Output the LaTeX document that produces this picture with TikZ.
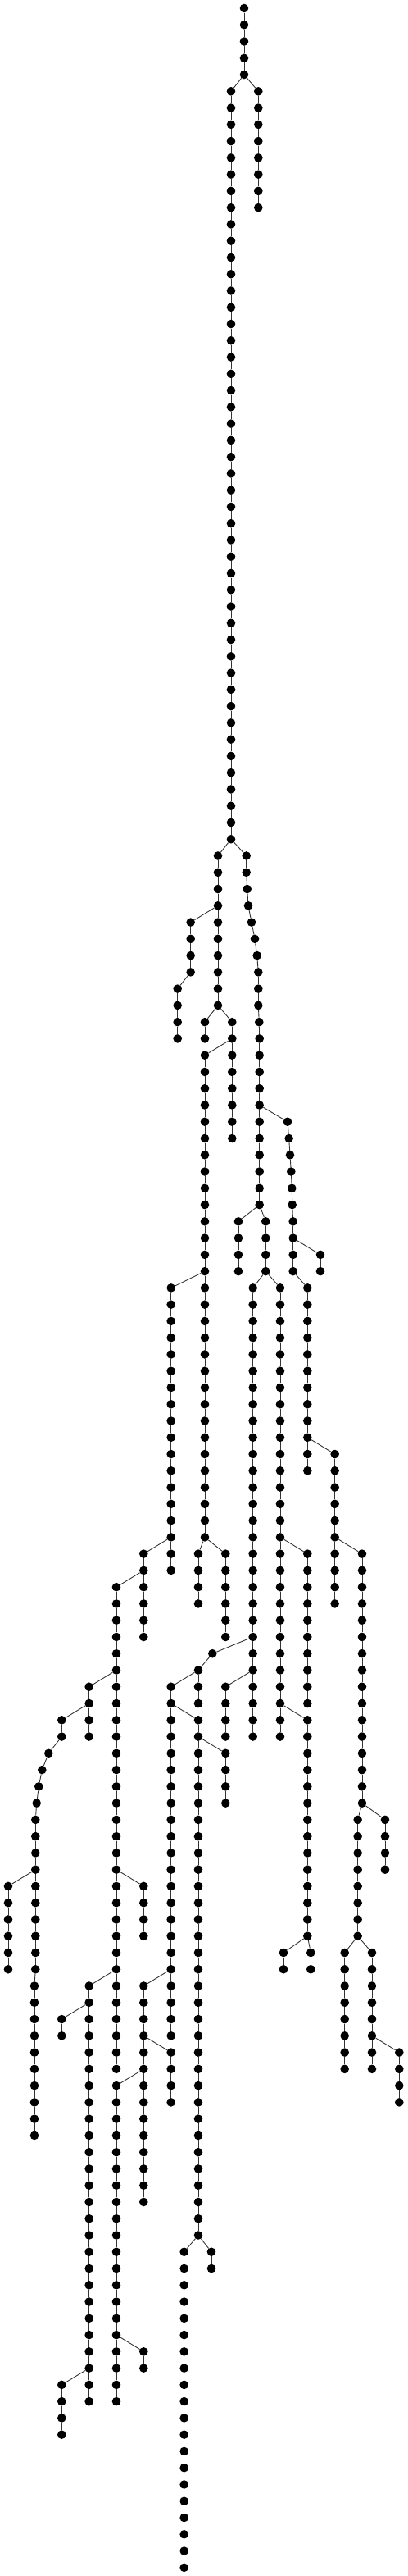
\documentclass[tikz,border=0pt]{standalone}
\tikzset{
  dot/.style={circle, fill=black, draw=none, inner sep=0pt, minimum size=10.6pt},
  edge/.style={draw=black!80, line width=0.9pt},
}
\newcommand\links[3]{\foreach \i in {#2,...,#3}{\pgfmathtruncatemacro\nxt{\i+1}\draw[edge] (#1-\i) -- (#1-\nxt);}}
\newcommand\chain[4]{%
  \foreach \i in {#3,...,#4}{\node[dot] (#1-\i) at (#2,\i) {};}%
  \ifnum#3<#4 \pgfmathtruncatemacro\lastm{#4-1}\links{#1}{#3}{\lastm}\fi}
\newcommand\pchain[4]{%
  \foreach \lv/\xv in {#4}{\node[dot] (#1-\lv) at (\xv,\lv) {};}%
  \pgfmathtruncatemacro\lastm{#3-1}\links{#1}{#2}{\lastm}}
\newcommand\ed[2]{\draw[edge] (#1) -- (#2);}
\begin{document}
\begin{tikzpicture}[x=1pt, y=-20.265pt]
\useasboundingbox (0,-0.4935) rectangle (498,154.505);
\chain{R}{298}{0}{4}
\chain{A}{282}{5}{50}
\chain{B}{315.3}{5}{12}
\ed{R-4}{A-5} \ed{R-4}{B-5}
\chain{C}{266}{51}{60}
\pchain{D}{51}{72}{51/300.7,52/300.7,53/301.7,54/303,55/307,56/311,57/313.7,58/315.3,59/315.3,60/315.3,61/316.3,62/316.7,63/316.7,64/316.7,65/316.7,66/316.7,67/316.7,68/316.7,69/316.7,70/316.7,71/316.7,72/316.7}
\ed{A-50}{C-51} \ed{A-50}{D-51}
\chain{E}{232.7}{55}{58} \ed{C-54}{E-55}
\chain{F}{216.7}{59}{62} \ed{E-58}{F-59}
\chain{G}{250}{61}{62} \ed{C-60}{G-61}
\chain{H}{283.3}{61}{68} \ed{C-60}{H-61}
\chain{I}{250}{63}{92} \ed{H-62}{I-63}
\chain{J}{208.7}{77}{94} \ed{I-76}{J-77}
\chain{K}{175.3}{93}{98} \ed{J-92}{K-93}
\chain{M}{142}{95}{124} \ed{K-94}{M-95}
\chain{O}{108.7}{101}{104} \ed{M-100}{O-101}
\pchain{P}{103}{128}{103/75.3,104/75.3,105/59.3,106/51.3,107/47.3,108/44.7,109/43.3,110/43.3,111/43.3,112/43.3,113/43.3,114/43.3,115/43.3,116/43.3,117/43.3,118/43.3,119/42,120/42,121/42,122/42,123/42,124/42,125/42,126/42,127/42,128/42}
\ed{O-102}{P-103}
\chain{Q}{10}{113}{118} \ed{P-112}{Q-113}
\chain{S}{175.3}{113}{116} \ed{M-112}{S-113}
\chain{T}{108.7}{119}{144} \ed{M-118}{T-119}
\chain{U}{75.3}{121}{122} \ed{T-120}{U-121}
\chain{V}{75.3}{143}{146} \ed{T-142}{V-143}
\chain{W}{242}{93}{96} \ed{I-92}{W-93}
\chain{X}{275.3}{93}{98} \ed{I-92}{X-93}
\pchain{Y}{67}{76}{67/351,68/352.7,69/354,70/355.3,71/356.3,72/356.7,73/357.7,74/357.7,75/357.7,76/357.7}
\ed{D-66}{Y-67}
\chain{Yb}{391}{75}{76} \ed{Y-74}{Yb-75}
\chain{BB}{375.3}{77}{88} \ed{Y-76}{BB-77}
\chain{CC}{408.7}{87}{96} \ed{BB-86}{CC-87}
\chain{DD}{442}{93}{108} \ed{CC-92}{DD-93}
\chain{EE}{436.7}{109}{116} \ed{DD-108}{EE-109}
\chain{FF}{470}{109}{112} \ed{DD-108}{FF-109}
\chain{GG}{420.7}{117}{124} \ed{EE-116}{GG-117}
\chain{HH}{454}{117}{124} \ed{EE-116}{HH-117}
\chain{II}{487.3}{123}{126} \ed{HH-122}{II-123}
\chain{Z}{291}{73}{76} \ed{D-72}{Z-73}
\chain{AA}{324.3}{73}{76} \ed{D-72}{AA-73}
\chain{JJ}{308.7}{77}{104} \ed{AA-76}{JJ-77}
\chain{KK}{342}{77}{104} \ed{AA-76}{KK-77}
\chain{LL}{259.3}{99}{99} \ed{JJ-98}{LL-99}
\chain{MM}{242}{100}{102} \ed{LL-99}{MM-100}
\chain{NN}{208.7}{101}{122} \ed{MM-100}{NN-101}
\chain{OO}{242}{103}{134} \ed{NN-102}{OO-103}
\chain{PP}{275.3}{105}{108} \ed{OO-104}{PP-105}
\chain{QQ}{224.7}{135}{154} \ed{OO-134}{QQ-135}
\chain{RR}{258}{135}{136} \ed{OO-134}{RR-135}
\chain{SS}{175.3}{119}{132} \ed{NN-118}{SS-119}
\chain{TT}{208.7}{123}{126} \ed{SS-122}{TT-123}
\chain{UU}{142}{125}{144} \ed{SS-124}{UU-125}
\chain{VV}{175.3}{141}{142} \ed{UU-140}{VV-141}
\chain{WW}{275.3}{101}{104} \ed{JJ-100}{WW-101}
\chain{XX}{375.3}{93}{102} \ed{KK-92}{XX-93}
\chain{YY}{375.3}{103}{116} \ed{KK-102}{YY-103}
\chain{ZZ}{346}{117}{118} \ed{YY-116}{ZZ-117}
\chain{AB}{379.3}{117}{118} \ed{YY-116}{AB-117}
\end{tikzpicture}
\end{document}
